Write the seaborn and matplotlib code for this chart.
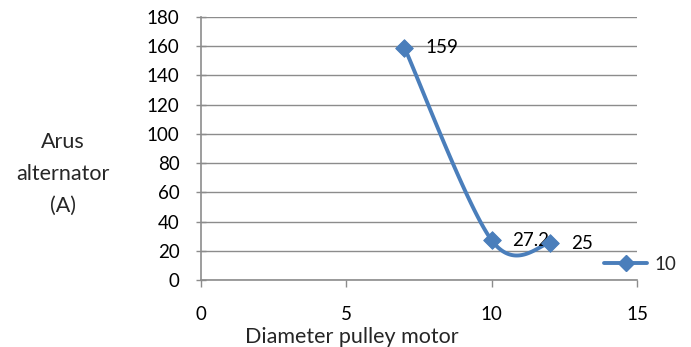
import numpy as np
import pandas as pd
import matplotlib
matplotlib.use("Agg")
import matplotlib.pyplot as plt
from matplotlib.lines import Line2D
import seaborn as sns

# Data
diameter = [7, 10, 12]
current = [159, 27.2, 25]
point_labels = ["159", "27.2", "25"]
series_name = "10"
x_ticks = [0, 5, 10, 15]
y_ticks = [0, 20, 40, 60, 80, 100, 120, 140, 160, 180]

sns.set_theme(style="white")
plt.rcParams['font.family'] = ['Lato', 'DejaVu Sans']

BLUE = "#4A7EBB"
GRID = "#8C8C8C"
FS = 13.5
FS_T = 15.5

fig = plt.figure(figsize=(6.91, 3.47), dpi=100)
ax = fig.add_axes([201/691, 1-280/347, (637-201)/691, (280-17)/347])

# Excel-style smooth curve (cardinal Bezier through the points)
P = np.column_stack([diameter, current]).astype(float)
curve = []
n = len(P)
t = np.linspace(0, 1, 60)
for i in range(n - 1):
    p0 = P[i - 1] if i > 0 else P[i]
    p1, p2 = P[i], P[i + 1]
    p3 = P[i + 2] if i + 2 < n else P[i + 1]
    c1 = p1 + (p2 - p0) / 6
    c2 = p2 - (p3 - p1) / 6
    seg = ((1-t)**3)[:, None]*p1 + (3*(1-t)**2*t)[:, None]*c1 + (3*(1-t)*t**2)[:, None]*c2 + (t**3)[:, None]*p2
    curve.append(seg if i == 0 else seg[1:])
curve = np.vstack(curve)
smooth = pd.DataFrame({"x": curve[:, 0], "y": curve[:, 1]})
pts = pd.DataFrame({"x": diameter, "y": current})

sns.lineplot(data=smooth, x="x", y="y", sort=False, ax=ax, color=BLUE, linewidth=2.8, zorder=3)
sns.scatterplot(data=pts, x="x", y="y", ax=ax, marker="D", s=80, color=BLUE, edgecolor=BLUE, zorder=4)

for xv, yv, lab in zip(diameter, current, point_labels):
    ax.annotate(lab, (xv, yv), xytext=(15, 0), textcoords="offset points",
                va="center", ha="left", fontsize=FS, color="#000000")

ax.set_xlim(0, 15)
ax.set_ylim(0, 180)
ax.set_xticks(x_ticks)
ax.set_yticks(y_ticks)
ax.set_xlabel("")
ax.set_ylabel("")
ax.yaxis.grid(True, color=GRID, linewidth=1)
ax.xaxis.grid(False)
ax.set_axisbelow(True)
for s in ["top", "right"]:
    ax.spines[s].set_visible(False)
for s in ["left", "bottom"]:
    ax.spines[s].set_color(GRID)
    ax.spines[s].set_linewidth(1.2)
ax.tick_params(axis="y", direction="inout", length=7, width=1, color=GRID, pad=12,
               labelsize=FS, labelcolor="#000000", left=True)
ax.tick_params(axis="x", direction="out", length=5, width=1, color=GRID, pad=14,
               labelsize=FS, labelcolor="#000000", bottom=True)

fig.text(352/691, 1-337/347, "Diameter pulley motor", ha="center", va="center", fontsize=FS_T)
fig.text(63/691, 1-174/347, "Arus\nalternator\n(A)", ha="center", va="center",
         fontsize=FS_T, linespacing=1.75)

handle = Line2D([0], [0], color=BLUE, linewidth=2.8, marker="D", markersize=8)
fig.legend([handle], [series_name], loc="center left", bbox_to_anchor=(604/691, 1-264/347),
           frameon=False, fontsize=FS, handlelength=2.3, handletextpad=0.4, borderpad=0, borderaxespad=0)

fig.savefig("out.png", dpi=100)
